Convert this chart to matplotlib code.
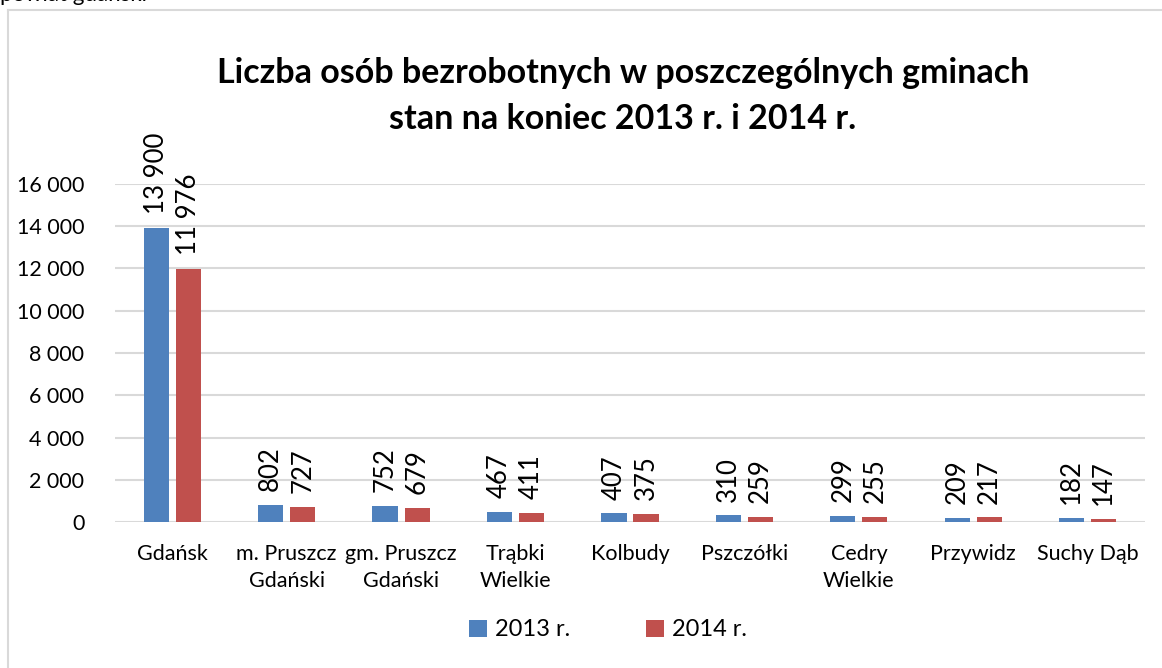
import matplotlib
matplotlib.use("Agg")
from matplotlib import pyplot as plt
from matplotlib.lines import Line2D
import numpy as np

gminy = ['Gdańsk', 'm. Pruszcz\nGdański', 'gm. Pruszcz\nGdański', 'Trąbki\nWielkie',
         'Kolbudy', 'Pszczółki', 'Cedry\nWielkie', 'Przywidz', 'Suchy Dąb']
v2013 = [13900, 802, 752, 467, 407, 310, 299, 209, 182]
v2014 = [11976, 727, 679, 411, 375, 259, 255, 217, 147]
yticks = [0, 2000, 4000, 6000, 8000, 10000, 12000, 14000, 16000]

plt.rcParams['font.family'] = ['Lato', 'DejaVu Sans']

W, H = 1162, 668
fig = plt.figure(figsize=(W / 100, H / 100), dpi=100)
ax = fig.add_axes([115 / W, 1 - 522 / H, (1145 - 115) / W, (522 - 184) / H])


def fmt(v):
    return '{:,}'.format(v).replace(',', ' ')


x = np.arange(len(gminy))
bw = 0.22
b1 = ax.bar(x - 0.14, v2013, bw, color='#4F81BD', label='2013 r.', zorder=3)
b2 = ax.bar(x + 0.14, v2014, bw, color='#C0504D', label='2014 r.', zorder=3)

for bars, vals in ((b1, v2013), (b2, v2014)):
    for b, v in zip(bars, vals):
        ax.annotate(fmt(v), (b.get_x() + b.get_width() / 2, v), xytext=(0, 10),
                    textcoords='offset points', rotation=90, ha='center', va='bottom',
                    fontsize=18.5, clip_on=False)

ax.set_xlim(-0.5, len(gminy) - 0.5)
ax.set_ylim(0, 16000)
ax.set_yticks(yticks)
ax.set_yticklabels([fmt(t) for t in yticks], fontsize=15.5)
ax.set_xticks(x)
ax.set_xticklabels(gminy, fontsize=15.5, linespacing=1.4)
ax.tick_params(length=0, pad=22)
ax.tick_params(axis='x', pad=16)
ax.grid(axis='y', color='#d9d9d9', linewidth=1.5, zorder=0)
for s in ax.spines.values():
    s.set_visible(False)

fig.text(0.536, 1 - 96 / H, 'Liczba osób bezrobotnych w poszczególnych gminach\nstan na koniec 2013 r. i 2014 r.',
         ha='center', va='center', fontsize=24.5, fontweight='bold', linespacing=1.55)

fig.legend(handles=[b1, b2], loc='center', bbox_to_anchor=(608 / W, 1 - 630 / H), ncol=2,
           frameon=False, fontsize=17, handlelength=0.75, handleheight=0.75,
           handletextpad=0.35, columnspacing=3.2)

# ramka wykresu i urwany tekst nad nia
fig.add_artist(Line2D([8 / W, 8 / W], [0, 1 - 10 / H], color='#d9d9d9', linewidth=1.5))
fig.add_artist(Line2D([8 / W, 1], [1 - 10 / H, 1 - 10 / H], color='#d9d9d9', linewidth=1.5))
fig.text(0, 1 - 1 / H, 'powiat gdański', ha='left', va='baseline', fontsize=16)

fig.savefig('out.png', dpi=100, facecolor='white')
